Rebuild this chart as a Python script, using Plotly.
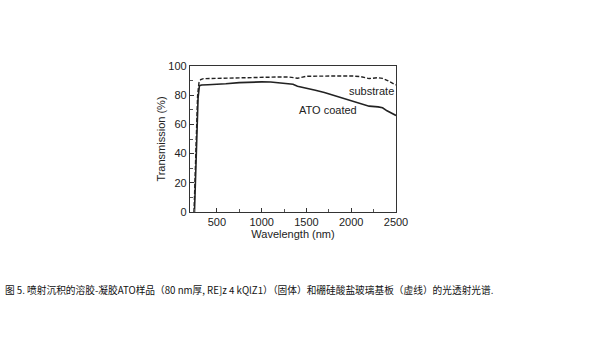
import plotly.graph_objects as go

# ATO coated (solid)
ato_x = [250, 262, 275, 290, 305, 330, 400, 500, 600, 750, 900, 1000, 1100, 1200, 1300, 1350, 1400,
         1500, 1600, 1700, 1800, 1900, 2000, 2100, 2200, 2300, 2350, 2400, 2450, 2500]
ato_y = [0, 20, 50, 78, 86.5, 87.0, 87.2, 87.3, 87.8, 88.6, 89.0, 89.1, 89.0, 88.6, 88.0, 87.5, 86.1,
         85.0, 83.4, 81.8, 80.0, 78.3, 76.6, 74.6, 72.5, 72.0, 71.4, 69.3, 67.8, 66.1]

# Substrate (dashed)
sub_x = [245, 258, 270, 285, 300, 320, 350, 500, 700, 1000, 1200, 1300, 1400, 1500, 1700, 1900,
         2000, 2100, 2200, 2300, 2350, 2400, 2450, 2500]
sub_y = [0, 25, 55, 80, 88.5, 90.7, 91.3, 91.6, 91.8, 92.5, 92.5, 92.5, 91.6, 93.0, 93.2, 93.2,
         93.2, 92.8, 91.4, 92.0, 91.5, 90.2, 88.8, 87.0]

x_ticks = [500, 1000, 1500, 2000, 2500]
y_ticks = [0, 20, 40, 60, 80, 100]

caption = "图 5. 喷射沉积的溶胶-凝胶ATO样品（80 nm厚, RE]z 4 kQlZ1）（固体）和硼硅酸盐玻璃基板（虚线）的光透射光谱."

fig = go.Figure()
fig.add_trace(go.Scatter(x=sub_x, y=sub_y, mode="lines",
                         line=dict(color="#222222", width=1.4, dash="4px,2px"), showlegend=False))
fig.add_trace(go.Scatter(x=ato_x, y=ato_y, mode="lines",
                         line=dict(color="#222222", width=1.6), showlegend=False))

font_main = "Liberation Sans, Arial, sans-serif"

fig.update_layout(
    width=593, height=351,
    margin=dict(l=190, r=197, t=66, b=139),
    paper_bgcolor="white", plot_bgcolor="white",
    font=dict(family=font_main, size=11, color="#222222"),
    xaxis=dict(range=[200, 2500], tickvals=x_ticks, ticks="inside", ticklen=4,
               tickcolor="#333333", showline=True, linecolor="#333333", linewidth=1.2,
               mirror=True, showgrid=False, zeroline=False,
               minor=dict(dtick=250, tick0=0, ticks="inside", ticklen=3, tickcolor="#555555"),
               title=dict(text="Wavelength (nm)", font=dict(size=11), standoff=2),
               tickfont=dict(size=11)),
    yaxis=dict(range=[0, 100], tickvals=y_ticks, ticks="inside", ticklen=4,
               tickcolor="#333333", showline=True, linecolor="#333333", linewidth=1.2,
               mirror=True, showgrid=False, zeroline=False,
               minor=dict(dtick=10, ticks="inside", ticklen=3, tickcolor="#555555"),
               title=dict(text="Transmission (%)", font=dict(size=11), standoff=0),
               tickfont=dict(size=11)),
    annotations=[
        dict(x=2230, y=82.7, xref="x", yref="y", text="substrate", showarrow=False,
             font=dict(size=11, family=font_main)),
        dict(x=1746, y=69.6, xref="x", yref="y", text="ATO coated", showarrow=False,
             font=dict(size=11, family=font_main)),
        dict(x=0.005, y=290, xref="paper", yref="paper", text=caption, showarrow=False,
             xanchor="left", yanchor="middle",
             font=dict(size=9.7, family="Noto Sans CJK SC", color="#111111")),
    ],
)
plot_h = 351 - 66 - 139
cap_y = (351 - 139 - 290) / plot_h
fig.layout.annotations[2].y = cap_y
fig.layout.annotations[2].x = (3 - 190) / (593 - 190 - 197)

fig.write_html("out.html")
